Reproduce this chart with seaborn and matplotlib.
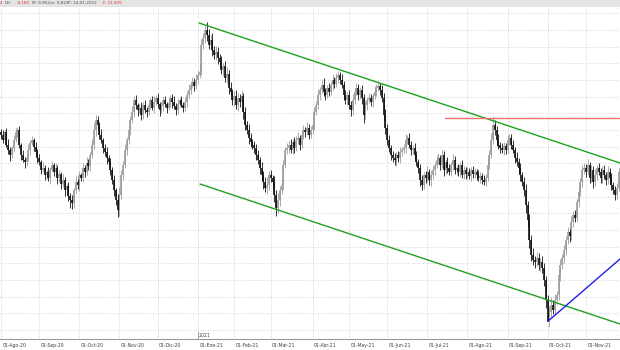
import numpy as np
import pandas as pd
import matplotlib
matplotlib.use("Agg")
import matplotlib.pyplot as plt
import matplotlib.transforms as mtransforms
import seaborn as sns

# ---------------- data ----------------
close = [
    11.95, 11.90, 11.98, 11.85, 11.80, 11.75, 11.82, 11.90, 11.98, 12.00,
    11.85, 11.75, 11.70, 11.68, 11.72, 11.80, 11.87, 11.90, 11.83, 11.78,
    11.72, 11.68, 11.60, 11.62, 11.55, 11.58, 11.52, 11.60, 11.65, 11.58,
    11.62, 11.52, 11.56, 11.46, 11.50, 11.40, 11.44, 11.34, 11.30, 11.27,
    11.40, 11.48, 11.45, 11.55, 11.52, 11.62, 11.58, 11.67, 11.64, 11.75,
    11.85, 12.00, 12.10, 12.05, 11.95, 11.90, 11.82, 11.78, 11.72, 11.68,
    11.60, 11.50, 11.40, 11.30, 11.20, 11.35, 11.55, 11.65, 11.80, 11.90,
    12.00, 12.10, 12.18, 12.30, 12.25, 12.20, 12.22, 12.15, 12.25, 12.20,
    12.18, 12.25, 12.30, 12.22, 12.28, 12.32, 12.26, 12.20, 12.24, 12.30,
    12.26, 12.22, 12.27, 12.32, 12.28, 12.24, 12.20, 12.26, 12.30, 12.25,
    12.22, 12.28, 12.35, 12.40, 12.45, 12.48, 12.44, 12.50, 12.55, 12.58,
    12.85, 12.92, 13.00, 12.95, 12.85, 12.90, 12.80, 12.75, 12.78, 12.72,
    12.68, 12.60, 12.64, 12.52, 12.56, 12.42, 12.38, 12.30, 12.34, 12.25,
    12.32, 12.28, 12.34, 12.18, 12.05, 12.00, 11.92, 11.88, 11.85, 11.82,
    11.75, 11.70, 11.62, 11.55, 11.48, 11.42, 11.45, 11.55, 11.52, 11.48,
    11.35, 11.22, 11.30, 11.40, 11.45, 11.65, 11.80, 11.82, 11.85, 11.80,
    11.88, 11.82, 11.90, 11.92, 11.85, 11.95, 12.00, 11.98, 12.02, 11.95,
    12.00, 12.05, 12.18, 12.25, 12.35, 12.40, 12.45, 12.38, 12.35, 12.42,
    12.38, 12.45, 12.50, 12.46, 12.52, 12.55, 12.50, 12.45, 12.35, 12.30,
    12.35, 12.25, 12.20, 12.30, 12.38, 12.42, 12.35, 12.40, 12.32, 12.15,
    12.25, 12.30, 12.32, 12.28, 12.34, 12.38, 12.42, 12.44, 12.40, 12.32,
    12.15, 12.02, 11.90, 11.82, 11.75, 11.72, 11.70, 11.75, 11.72, 11.78,
    11.80, 11.82, 11.90, 11.92, 11.85, 11.80, 11.82, 11.75, 11.68, 11.62,
    11.50, 11.45, 11.55, 11.52, 11.58, 11.50, 11.55, 11.60, 11.65, 11.70,
    11.72, 11.65, 11.75, 11.60, 11.68, 11.62, 11.58, 11.65, 11.70, 11.60,
    11.62, 11.58, 11.65, 11.55, 11.60, 11.56, 11.58, 11.54, 11.60, 11.56,
    11.58, 11.55, 11.52, 11.54, 11.50, 11.48, 11.52, 11.65, 11.75, 11.90,
    12.05, 12.00, 11.90, 11.85, 11.82, 11.80, 11.84, 11.80, 11.90, 11.92,
    11.85, 11.80, 11.72, 11.68, 11.62, 11.55, 11.48, 11.40, 11.25, 11.10,
    10.90, 10.75, 10.70, 10.68, 10.72, 10.65, 10.68, 10.62, 10.50, 10.30,
    10.09, 10.18, 10.25, 10.20, 10.30, 10.35, 10.55, 10.65, 10.72, 10.80,
    10.90, 10.98, 10.94, 11.08, 11.15, 11.12, 11.28, 11.38, 11.48, 11.60,
    11.62, 11.58, 11.65, 11.52, 11.60, 11.48, 11.55, 11.62, 11.58, 11.52,
    11.60, 11.55, 11.50, 11.58, 11.52, 11.45, 11.40, 11.35, 11.42, 11.58,
]
# upper / lower shadows of each bar, in cents
wick_hi = [
    3, 5, 2, 4, 6, 3, 2, 5, 4, 3,   4, 2, 5, 3, 2, 6, 3, 4, 2, 5,
    3, 4, 2, 6, 3, 2, 5, 3, 4, 2,   5, 3, 4, 2, 6, 3, 2, 4, 3, 5,
    2, 6, 3, 4, 2, 5, 3, 6, 4, 3,   6, 8, 5, 4, 3, 6, 2, 4, 5, 3,
    4, 3, 5, 2, 6, 8, 5, 4, 6, 3,   5, 4, 6, 3, 5, 2, 4, 6, 3, 5,
    3, 5, 2, 4, 6, 3, 5, 2, 4, 3,   4, 2, 5, 3, 4, 6, 3, 5, 2, 4,
    3, 5, 4, 6, 3, 5, 4, 6, 5, 8,   6, 5, 4, 8, 6, 5, 7, 4, 6, 5,
    4, 6, 3, 5, 7, 4, 6, 3, 5, 6,   5, 4, 6, 3, 5, 4, 6, 5, 3, 4,
    4, 5, 3, 6, 4, 5, 8, 4, 5, 3,   6, 5, 7, 4, 6, 5, 3, 5, 4, 6,
    3, 5, 4, 6, 3, 4, 5, 3, 6, 4,   4, 3, 5, 4, 6, 3, 5, 7, 4, 3,
    5, 4, 6, 3, 5, 4, 3, 6, 4, 5,   3, 5, 4, 6, 3, 5, 4, 3, 5, 4,
    4, 3, 5, 4, 3, 6, 4, 5, 3, 5,   5, 6, 4, 5, 3, 4, 5, 3, 4, 5,
    3, 4, 6, 3, 5, 4, 3, 5, 4, 3,   4, 5, 3, 4, 6, 3, 5, 4, 3, 5,
    5, 3, 6, 4, 3, 5, 4, 3, 6, 4,   3, 4, 3, 5, 4, 3, 5, 4, 3, 4,
    4, 3, 5, 4, 3, 5, 4, 6, 5, 7,   8, 5, 4, 6, 3, 5, 4, 3, 5, 4,
    4, 5, 3, 6, 4, 5, 3, 5, 6, 4,   6, 5, 7, 4, 6, 5, 4, 6, 5, 4,
    5, 6, 8, 5, 6, 4, 5, 6, 4, 5,   4, 5, 3, 6, 4, 5, 3, 6, 4, 5,
    5, 4, 6, 3, 5, 4, 6, 3, 5, 4,   4, 5, 3, 6, 4, 5, 3, 4, 5, 4,
]
wick_lo = [
    4, 3, 5, 2, 4, 6, 3, 4, 2, 5,   3, 5, 2, 6, 4, 3, 5, 2, 4, 3,
    5, 3, 4, 2, 5, 4, 3, 6, 2, 4,   3, 6, 4, 5, 3, 6, 4, 5, 8, 6,
    5, 3, 4, 6, 3, 4, 5, 3, 4, 5,   3, 4, 6, 5, 4, 3, 5, 4, 6, 4,
    5, 4, 6, 5, 7, 6, 4, 5, 3, 5,   4, 5, 3, 5, 4, 6, 3, 5, 4, 3,
    5, 3, 4, 2, 5, 3, 4, 6, 3, 5,   3, 5, 2, 4, 6, 3, 5, 4, 3, 2,
    4, 3, 5, 3, 4, 2, 5, 3, 4, 3,   3, 4, 5, 6, 4, 5, 6, 4, 5, 6,
    5, 4, 6, 4, 5, 6, 4, 5, 6, 4,   6, 5, 4, 7, 5, 4, 6, 5, 4, 5,
    5, 4, 6, 5, 7, 4, 6, 5, 4, 6,   7, 8, 5, 6, 4, 5, 3, 4, 5, 3,
    4, 5, 3, 4, 5, 3, 4, 5, 3, 4,   3, 4, 5, 3, 4, 5, 3, 4, 5, 3,
    4, 3, 5, 4, 3, 5, 4, 3, 5, 4,   5, 4, 6, 5, 4, 3, 5, 4, 6, 8,
    4, 5, 3, 4, 5, 3, 4, 3, 5, 4,   5, 6, 5, 4, 5, 4, 5, 6, 4, 5,
    4, 3, 5, 4, 3, 5, 4, 5, 4, 5,   6, 5, 4, 5, 4, 5, 6, 4, 5, 3,
    4, 5, 3, 6, 4, 5, 3, 4, 5, 4,   5, 4, 5, 3, 4, 5, 4, 3, 5, 4,
    4, 5, 3, 5, 4, 3, 4, 3, 4, 3,   4, 5, 6, 4, 5, 3, 5, 4, 3, 5,
    4, 3, 5, 4, 5, 6, 4, 6, 8, 7,   8, 6, 5, 6, 4, 5, 6, 5, 6, 8,
    0, 6, 5, 4, 5, 4, 5, 6, 4, 5,   5, 4, 6, 4, 5, 4, 3, 5, 4, 5,
    4, 5, 3, 5, 4, 6, 4, 5, 3, 5,   5, 4, 5, 4, 6, 5, 4, 5, 4, 3,
]
holidays = ["2020-12-25", "2021-01-01", "2021-04-02", "2021-04-05"]
month_labels = ["01-Ago-20", "01-Sep-20", "01-Oct-20", "01-Nov-20", "01-Dic-20",
                "01-Ene-21", "01-Feb-21", "01-Mar-21", "01-Abr-21", "01-May-21",
                "01-Jun-21", "01-Jul-21", "01-Ago-21", "01-Sep-21", "01-Oct-21",
                "01-Nov-21"]
year_label = "2021"

# trend lines: (bar index, price) end points
upper_x, upper_y = [108.7, 339.7], [13.07, 11.67]
lower_x, lower_y = [109.2, 339.7], [11.46, 10.06]
resist_x, resist_y = [243.7, 339.7], [12.125, 12.125]
support_x, support_y = [300.0, 339.7], [10.085, 10.71]

header_parts = [("4", "#e03030"), ("Dif:", "#505050"), ("-0,180", "#e03030"),
                ("M: 9,962", "#505050"), ("m: 9,822", "#505050"),
                ("P: 14-01-2022", "#505050"), ("F: 11,905", "#e03030")]
header_x = [0, 5, 17, 32, 50, 68, 103]

# ---------------- build ----------------
close = np.array(close)
n = len(close)
dates = pd.bdate_range("2020-08-03", "2021-12-31")
dates = dates[~dates.isin(pd.to_datetime(holidays))][:n]
idx = np.arange(n)
opens = np.r_[close[0] + 0.03, close[:-1]]
body_lo = np.minimum(opens, close)
body_hi = np.maximum(opens, close)
body_hi = np.where(body_hi - body_lo < 0.02, body_lo + 0.02, body_hi)
high = body_hi + np.array(wick_hi[:n]) / 100.0
low = body_lo - np.array(wick_lo[:n]) / 100.0
up = close >= opens

sns.set_style("white")
fig = plt.figure(figsize=(6.2, 3.5), dpi=100)
fig.patch.set_facecolor("white")
ax = fig.add_axes([0, 11 / 350, 1, 331 / 350])

# grid
ytick = 10.0 + np.arange(-1, 21) / 6.0
ax.set_yticks(ytick)
ax.set_yticklabels([])
ax.tick_params(axis="y", length=0)
per = pd.Series(idx, index=dates).groupby(dates.to_period("M")).first()
month_pos = per.values[:len(month_labels)]
ax.set_xticks(month_pos)
ax.set_xticklabels([])
ax.grid(True, linestyle=(0, (1, 2)), color="#c4c4c4", linewidth=0.6)
ax.set_axisbelow(True)

# candles (shadow + body)
for mask, col in [(up, "#9c9c9c"), (~up, "#111111")]:
    ax.vlines(idx[mask], low[mask], high[mask], color=col, linewidth=0.6)
    ax.vlines(idx[mask], body_lo[mask], body_hi[mask], color=col, linewidth=1.2)

# trend lines
sns.lineplot(x=upper_x, y=upper_y, ax=ax, color="#1fa01f", linewidth=1.0)
sns.lineplot(x=lower_x, y=lower_y, ax=ax, color="#1fa01f", linewidth=1.0)
sns.lineplot(x=resist_x, y=resist_y, ax=ax, color="#f07070", linewidth=1.0)
sns.lineplot(x=support_x, y=support_y, ax=ax, color="#2020ee", linewidth=1.0)

ax.set_xlim(-0.55, 339.7)
ax.set_ylim(9.91, 13.22)
for s in ["top", "left", "right"]:
    ax.spines[s].set_visible(False)
ax.spines["bottom"].set_color("#9a9a9a")
ax.spines["bottom"].set_linewidth(0.8)
ax.tick_params(axis="x", length=8, width=0.6, color="#9a9a9a", direction="out")
ax.set_xlabel("")
ax.set_ylabel("")

# x labels
trans = mtransforms.blended_transform_factory(ax.transData, ax.transAxes)
for p, lab in zip(month_pos, month_labels):
    ax.text(p + 0.8, -0.021, lab, transform=trans, fontsize=3.3, color="#404040",
            ha="left", va="center", clip_on=False)
jan = month_pos[month_labels.index("01-Ene-21")]
ax.text(jan + 0.3, 0.004, year_label, transform=trans, fontsize=3.3, color="#404040",
        ha="left", va="bottom")
ax.plot([jan, jan], [0, 0.02], transform=trans, color="#9a9a9a", linewidth=0.6)

# header band
fig.patches.append(plt.Rectangle((0, 1 - 7 / 350), 1, 7 / 350, transform=fig.transFigure,
                                 facecolor="#e4e4e4", edgecolor="none", zorder=0))
for (t, c), px in zip(header_parts, header_x):
    fig.text(px / 620, 1 - 3.5 / 350, t, color=c, fontsize=3.0, ha="left", va="center")

fig.savefig("out.png", dpi=100)
